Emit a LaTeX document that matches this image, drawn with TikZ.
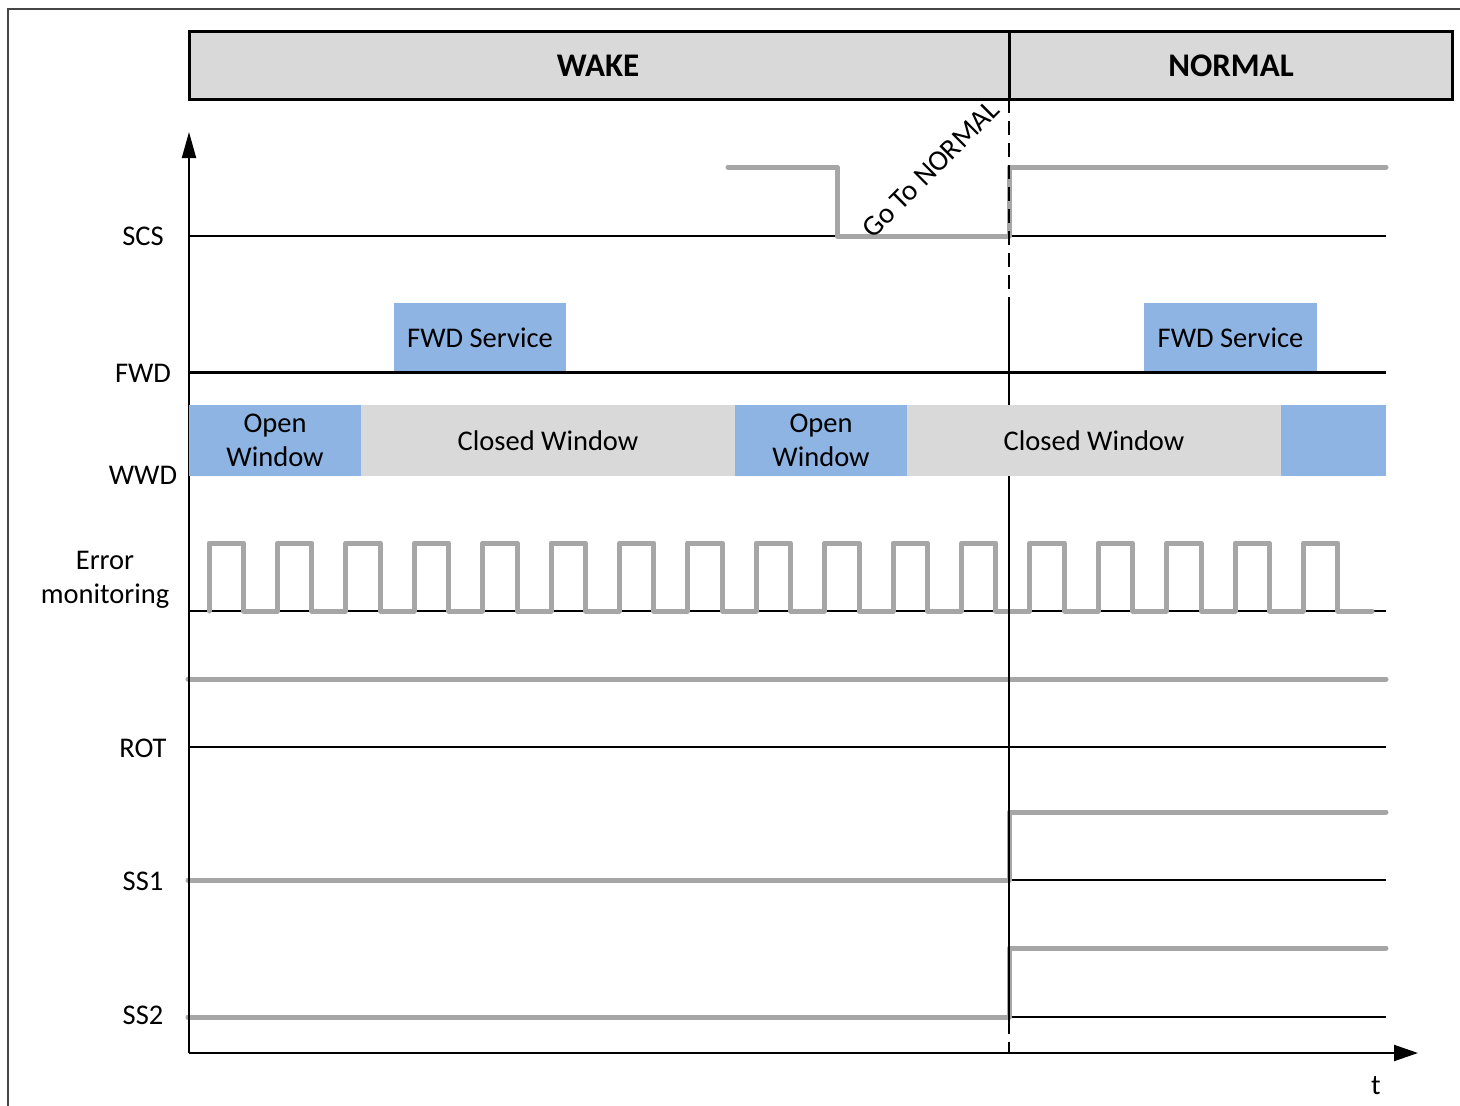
\documentclass[tikz,border=0pt]{standalone}
\usepackage{fontspec}
\setmainfont{Carlito}
\usetikzlibrary{arrows.meta}
\definecolor{hdrgray}{RGB}{217,217,217}
\definecolor{siggray}{RGB}{166,166,166}
\definecolor{winblue}{RGB}{142,180,227}
\definecolor{framegray}{RGB}{70,70,70}

\begin{document}
\begin{tikzpicture}[x=1pt,y=-1pt,
  lbl/.style={font=\fontsize{28.5}{34}\selectfont, inner sep=0pt},
  hdrbox/.style={draw=black, line width=3pt, fill=hdrgray, inner sep=0pt, minimum height=68pt},
  hdrtext/.style={font=\fontsize{33}{38}\selectfont\bfseries, inner sep=0pt, anchor=base},
  fwdbox/.style={fill=winblue, inner sep=0pt, minimum height=69pt, font=\fontsize{28.5}{34}\selectfont},
  openwin/.style={fill=winblue, inner sep=0pt, minimum height=71pt, align=center, font=\fontsize{28.5}{34}\selectfont},
  closedwin/.style={fill=hdrgray, inner sep=0pt, minimum height=71pt, font=\fontsize{28.5}{34}\selectfont},
  baseline/.style={line width=2pt},
  wave/.style={draw=siggray, line width=5pt, line join=round, line cap=round},
  marker/.style={line width=2.8pt},
  axis/.style={line width=2pt}
]
\useasboundingbox (0,0) rectangle (1460,1106);

% frame
\draw[framegray, line width=1.5pt] (8,1106) -- (8,9) -- (1460,9);

% state header
\node[hdrbox, minimum width=820pt] (wake) at (599,65) {};
\node[hdrbox, minimum width=443pt] (normal) at (1230.5,65) {};
\node[hdrtext] (wakelbl) at (598,76) {WAKE};
\node[hdrtext] (normallbl) at (1231,76) {NORMAL};

% axis anchors
\coordinate (O) at (189,1053);
\coordinate (ytip) at (189,132);
\coordinate (xtip) at (1418,1053);

% transition marker
\coordinate (m0) at (1009,99);
\coordinate (m1) at (1009,305);
\coordinate (m2) at (1009,1020);
\coordinate (m3) at (1009,1053);

% signal baselines
\draw[baseline] (189,236) -- (1386,236);
\draw[baseline] (189,611) -- (1386,611);
\draw[baseline] (189,747) -- (1386,747);
\draw[baseline] (189,880) -- (1386,880);
\draw[baseline] (189,1017) -- (1386,1017);

% FWD service slots
\node[fwdbox, minimum width=172pt] (fwd1) at (480,337.5) {FWD Service};
\node[fwdbox, minimum width=173pt] (fwd2) at (1230.5,337.5) {FWD Service};
\draw[line width=3pt] (189,372) -- (1386,372);

% signal waveforms
\draw[wave] (728,167) -- (837,167) -- (837,236) -- (1009,236) -- (1009,167) -- (1386,167);
\draw[wave] (209,611) \foreach \k in {0,...,16}{
    -- ({209+68.4*\k},611) -- ({209+68.4*\k},543)
    -- ({243.5+68.4*\k},543) -- ({243.5+68.4*\k},611) } -- (1372,611);
\draw[wave] (188,679) -- (1386,679);
\draw[wave] (188,880) -- (1009,880) -- (1009,812) -- (1386,812);
\draw[wave] (188,1017) -- (1009,1017) -- (1009,948) -- (1386,948);

% transition marker line
\draw[marker, dash pattern=on 14pt off 8pt] (m0) -- (m1);
\draw[marker] (m1) -- (m2);
\draw[marker, dash pattern=on 14pt off 8pt] (m2) -- (m3);

% axes
\draw[axis, -{Triangle[length=26pt,width=14pt]}] (O) -- (ytip);
\draw[axis, -{Triangle[length=24pt,width=16pt]}] (O) -- (xtip);

% watchdog windows
\node[openwin, minimum width=172pt] (ow1) at (275,440.5) {Open\\Window};
\node[closedwin, minimum width=374pt] (cw1) at (548,440.5) {Closed Window};
\node[openwin, minimum width=172pt] (ow2) at (821,440.5) {Open\\Window};
\node[closedwin, minimum width=374pt] (cw2) at (1094,440.5) {Closed Window};
\node[openwin, minimum width=105pt] (ow3) at (1333.5,440.5) {};

% mode request
\node[lbl, font=\fontsize{29}{34}\selectfont, anchor=base west, rotate=45] (goto) at (873,240) {Go To NORMAL};

% signal names
\node[lbl, anchor=base] (scs) at (143,245) {SCS};
\node[lbl, anchor=base] (fwd) at (143,382) {FWD};
\node[lbl, anchor=base] (wwd) at (143,484) {WWD};
\node[lbl, anchor=base] (err) at (105,569) {Error};
\node[lbl, anchor=base] (mon) at (105,603) {monitoring};
\node[lbl, anchor=base] (rot) at (143,757) {ROT};
\node[lbl, anchor=base] (ss1) at (143,890) {SS1};
\node[lbl, anchor=base] (ss2) at (143,1024) {SS2};
\node[lbl, anchor=base] (t) at (1376,1094) {t};
\end{tikzpicture}
\end{document}
